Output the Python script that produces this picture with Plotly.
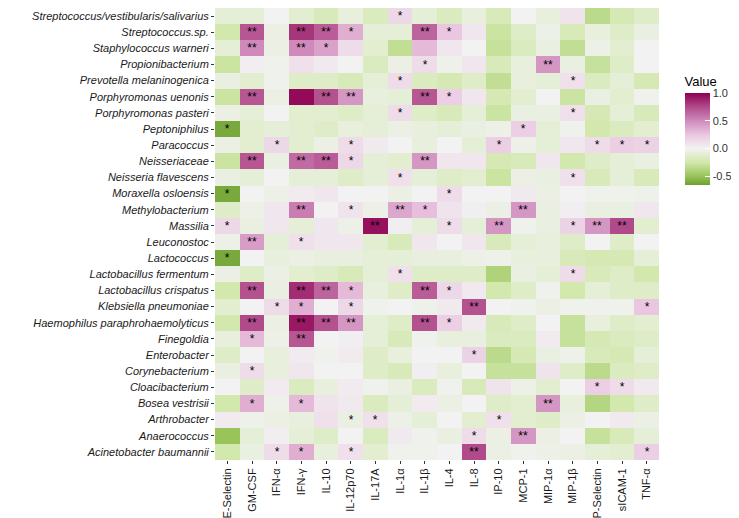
import plotly.graph_objects as go

taxa = [
    "Streptococcus/vestibularis/salivarius", "Streptococcus.sp.", "Staphylococcus warneri",
    "Propionibacterium", "Prevotella melaninogenica", "Porphyromonas uenonis",
    "Porphyromonas pasteri", "Peptoniphilus", "Paracoccus", "Neisseriaceae",
    "Neisseria flavescens", "Moraxella osloensis", "Methylobacterium", "Massilia",
    "Leuconostoc", "Lactococcus", "Lactobacillus fermentum", "Lactobacillus crispatus",
    "Klebsiella pneumoniae", "Haemophilus paraphrohaemolyticus", "Finegoldia",
    "Enterobacter", "Corynebacterium", "Cloacibacterium", "Bosea vestrisii",
    "Arthrobacter", "Anaerococcus", "Acinetobacter baumannii",
]
cytokines = ["E-Selectin", "GM-CSF", "IFN-α", "IFN-γ", "IL-10", "IL-12p70", "IL-17A",
             "IL-1α", "IL-1β", "IL-4", "IL-8", "IP-10", "MCP-1", "MIP-1α", "MIP-1β",
             "P-Selectin", "sICAM-1", "TNF-α"]

# correlation values per cytokine column (rows in taxa order)
e_selectin = [-0.10, -0.25, -0.10, -0.28, -0.06, -0.28, -0.05, -0.62, -0.05, -0.28, -0.06, -0.62, -0.15, 0.15,
              -0.04, -0.62, -0.05, -0.25, -0.12, -0.25, -0.08, -0.15, -0.06, 0.00, -0.25, 0.04, -0.50, -0.25]
gm_csf = [-0.10, 0.70, 0.50, 0.03, -0.12, 0.70, -0.10, -0.12, -0.12, 0.70, -0.10, 0.00, -0.04, -0.06,
          0.42, 0.00, -0.15, 0.72, 0.00, 0.75, 0.30, 0.00, 0.12, -0.15, 0.35, -0.03, -0.10, -0.06]
ifn_a = [0.00, -0.05, -0.05, -0.02, -0.02, -0.05, 0.00, -0.10, 0.15, -0.06, 0.00, -0.04, 0.07, 0.07,
         -0.10, -0.08, -0.05, -0.06, 0.12, -0.05, -0.04, -0.08, -0.08, 0.04, -0.03, -0.05, 0.03, 0.12]
ifn_g = [-0.12, 0.82, 0.50, 0.10, -0.15, 0.97, -0.12, -0.12, -0.12, 0.62, -0.10, 0.04, 0.55, -0.10,
         0.10, -0.05, -0.12, 0.85, 0.35, 0.92, 0.70, 0.04, 0.06, -0.18, 0.30, -0.07, -0.10, 0.35]
il_10 = [-0.20, 0.68, 0.40, 0.05, -0.15, 0.72, -0.12, -0.15, -0.05, 0.68, -0.10, 0.06, 0.00, 0.06,
         0.06, -0.07, -0.15, 0.65, 0.00, 0.72, 0.00, -0.02, 0.00, -0.08, 0.08, 0.10, -0.15, -0.08]
il_12p70 = [-0.08, 0.35, 0.12, 0.00, -0.20, 0.45, -0.15, -0.08, 0.12, 0.15, -0.15, 0.00, 0.08, -0.04,
            0.06, -0.07, -0.20, 0.30, 0.15, 0.45, 0.02, 0.04, 0.00, 0.04, 0.05, -0.06, 0.00, 0.10]
il_17a = [-0.18, -0.10, -0.12, -0.18, -0.10, -0.08, -0.10, -0.10, 0.05, -0.10, -0.10, 0.00, -0.04, 0.95,
          -0.12, -0.10, -0.10, -0.08, -0.02, -0.10, -0.10, -0.15, -0.15, -0.02, -0.18, 0.10, -0.18, -0.12]
il_1a = [0.15, -0.10, -0.32, -0.05, 0.12, -0.10, 0.12, -0.05, 0.00, -0.12, 0.10, -0.05, 0.38, 0.02,
         -0.20, -0.10, 0.10, -0.15, 0.00, -0.15, -0.20, -0.08, -0.20, -0.06, -0.10, -0.04, 0.05, -0.02]
il_1b = [-0.10, 0.65, 0.30, 0.12, -0.18, 0.70, -0.15, -0.08, -0.08, 0.45, -0.10, 0.00, 0.28, -0.10,
         0.07, -0.07, -0.15, 0.68, -0.03, 0.72, -0.02, 0.00, 0.02, -0.18, 0.04, -0.10, -0.02, -0.02]
il_4 = [-0.18, 0.25, 0.06, -0.03, -0.22, 0.20, -0.20, -0.10, 0.00, 0.06, -0.15, 0.12, 0.08, 0.12,
        0.00, -0.07, -0.15, 0.15, 0.05, 0.20, -0.08, 0.00, -0.08, -0.02, -0.05, 0.00, -0.06, 0.00]
il_8 = [-0.08, 0.06, 0.00, 0.07, -0.15, 0.06, -0.10, -0.06, -0.10, 0.06, -0.12, 0.00, 0.02, -0.10,
        0.06, -0.04, -0.15, 0.05, 0.72, 0.05, -0.07, 0.18, 0.00, -0.20, 0.00, -0.12, 0.12, 0.75]
ip_10 = [-0.20, -0.28, -0.30, -0.20, -0.32, -0.22, -0.28, -0.04, 0.20, -0.22, -0.28, 0.00, -0.05, 0.45,
         -0.20, -0.03, -0.40, -0.25, 0.00, -0.20, -0.18, -0.35, -0.30, 0.08, -0.15, 0.10, -0.05, -0.05]
mcp_1 = [0.00, -0.15, -0.18, -0.08, -0.08, -0.12, -0.06, 0.20, -0.04, -0.20, -0.05, 0.05, 0.45, -0.02,
         -0.10, -0.08, -0.06, -0.15, -0.02, -0.15, -0.18, -0.22, -0.30, -0.04, -0.12, -0.12, 0.45, -0.02]
mip_1a = [-0.08, -0.04, -0.06, 0.45, -0.10, 0.00, -0.06, -0.10, -0.10, 0.06, -0.06, -0.05, -0.06, -0.06,
          -0.08, -0.08, -0.10, -0.02, -0.05, 0.00, 0.04, -0.06, 0.08, -0.12, 0.45, -0.15, -0.05, -0.04]
mip_1b = [0.08, -0.20, -0.32, -0.06, 0.10, -0.28, 0.10, -0.02, 0.06, -0.25, 0.10, 0.00, 0.02, 0.18,
          -0.15, -0.20, 0.12, -0.25, -0.02, -0.30, -0.30, -0.03, -0.15, 0.00, -0.08, -0.05, 0.00, -0.05]
p_selectin = [-0.35, -0.08, -0.04, -0.30, -0.18, -0.06, -0.22, -0.25, 0.12, -0.15, -0.20, -0.02, -0.06, 0.45,
              0.00, -0.22, -0.20, -0.10, -0.02, -0.08, -0.22, -0.20, -0.35, 0.20, -0.38, 0.00, -0.30, -0.10]
sicam_1 = [-0.22, -0.15, -0.12, -0.15, -0.10, -0.12, -0.10, -0.18, 0.20, -0.10, -0.10, -0.02, -0.06, 0.75,
           -0.15, -0.22, -0.15, -0.15, -0.02, -0.15, -0.18, -0.22, -0.18, 0.12, -0.25, 0.05, -0.20, -0.12]
tnf_a = [-0.15, -0.06, 0.00, 0.00, -0.22, -0.02, -0.20, -0.12, 0.18, -0.06, -0.20, -0.03, 0.06, -0.12,
         0.00, -0.10, -0.25, -0.15, 0.25, -0.12, -0.15, -0.10, -0.15, 0.05, -0.15, -0.05, -0.10, 0.20]

columns = [e_selectin, gm_csf, ifn_a, ifn_g, il_10, il_12p70, il_17a, il_1a, il_1b, il_4,
           il_8, ip_10, mcp_1, mip_1a, mip_1b, p_selectin, sicam_1, tnf_a]

# significance marks: {row index: mark} per cytokine
sig_e_selectin = {7: "*", 11: "*", 13: "*", 15: "*"}
sig_gm_csf = {1: "**", 2: "**", 5: "**", 9: "**", 14: "**", 17: "**", 19: "**", 20: "*", 22: "*", 24: "*"}
sig_ifn_a = {8: "*", 18: "*", 27: "*"}
sig_ifn_g = {1: "**", 2: "**", 9: "**", 12: "**", 14: "*", 17: "**", 18: "*", 19: "**", 20: "**", 24: "*", 27: "*"}
sig_il_10 = {1: "**", 2: "*", 5: "**", 9: "**", 17: "**", 19: "**"}
sig_il_12p70 = {1: "*", 5: "**", 8: "*", 9: "*", 12: "*", 17: "*", 18: "*", 19: "**", 25: "*", 27: "*"}
sig_il_17a = {13: "**", 25: "*"}
sig_il_1a = {0: "*", 4: "*", 6: "*", 10: "*", 12: "**", 16: "*"}
sig_il_1b = {1: "**", 3: "*", 5: "**", 9: "**", 12: "*", 17: "**", 19: "**"}
sig_il_4 = {1: "*", 5: "*", 11: "*", 13: "*", 17: "*", 19: "*"}
sig_il_8 = {18: "**", 21: "*", 26: "*", 27: "**"}
sig_ip_10 = {8: "*", 13: "**", 25: "*"}
sig_mcp_1 = {7: "*", 12: "**", 26: "**"}
sig_mip_1a = {3: "**", 24: "**"}
sig_mip_1b = {4: "*", 6: "*", 10: "*", 13: "*", 16: "*"}
sig_p_selectin = {8: "*", 13: "**", 23: "*"}
sig_sicam_1 = {8: "*", 13: "**", 23: "*"}
sig_tnf_a = {8: "*", 18: "*", 27: "*"}

sig_columns = [sig_e_selectin, sig_gm_csf, sig_ifn_a, sig_ifn_g, sig_il_10, sig_il_12p70, sig_il_17a,
               sig_il_1a, sig_il_1b, sig_il_4, sig_il_8, sig_ip_10, sig_mcp_1, sig_mip_1a, sig_mip_1b,
               sig_p_selectin, sig_sicam_1, sig_tnf_a]

z = [[columns[c][r] for c in range(len(cytokines))] for r in range(len(taxa))]
text = [[sig_columns[c].get(r, "") for c in range(len(cytokines))] for r in range(len(taxa))]

zmin, zmax = -0.66, 1.0
stop_vals = [-0.66, -0.5, -0.25, 0.0, 0.25, 0.5, 0.75, 1.0]
stop_cols = ["#6E9F32", "#98C45A", "#D2E8AC", "#F2F2F2", "#EAC6E0", "#CF8ABB", "#B04A8A", "#8E0152"]
colorscale = [[(v - zmin) / (zmax - zmin), col] for v, col in zip(stop_vals, stop_cols)]

fig = go.Figure(go.Heatmap(
    z=z, x=cytokines, y=taxa, text=text, texttemplate="%{text}",
    textfont=dict(size=12, color="#000000", family="Liberation Sans, Arial, sans-serif"),
    colorscale=colorscale, zmin=zmin, zmax=zmax,
    colorbar=dict(
        title=dict(text="Value", side="top", font=dict(size=13, color="black")),
        tickvals=[-0.5, 0.0, 0.5, 1.0], ticktext=["-0.5", "0.0", "0.5", "1.0"],
        ticks="inside", tickcolor="white", ticklen=5, tickwidth=1,
        tickfont=dict(size=11, color="#333333"),
        thickness=25, thicknessmode="pixels", len=132, lenmode="pixels",
        x=1.035, xanchor="left", y=1 - 121 / 452, yanchor="middle",
        outlinewidth=0,
    ),
    hoverongaps=False,
))

fig.update_layout(
    width=739, height=518,
    margin=dict(l=207, r=72, t=0, b=66),
    paper_bgcolor="white", plot_bgcolor="white",
    font=dict(family="Liberation Sans, Arial, sans-serif", color="#1a1a1a"),
)
fig.update_xaxes(tickangle=-90, ticks="outside", ticklen=3, tickcolor="#333333",
                 tickfont=dict(size=11, color="#1a1a1a"), showgrid=False, zeroline=False,
                 showline=False)
fig.update_yaxes(autorange="reversed", ticks="outside", ticklen=3, tickcolor="#333333",
                 tickfont=dict(size=11, color="#1a1a1a", style="italic"), showgrid=False,
                 zeroline=False, showline=False)

fig.write_html("out.html")
